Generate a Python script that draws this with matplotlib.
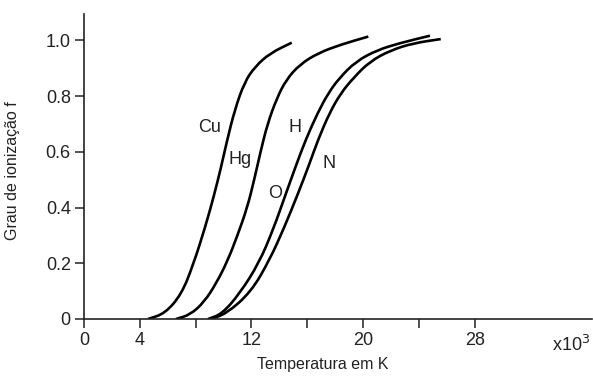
import matplotlib.pyplot as plt
from matplotlib.path import Path
from matplotlib.patches import PathPatch

plt.rcParams['font.family'] = ['Liberation Sans', 'DejaVu Sans']

# temperature in 10^3 K, ionisation fraction f
cu_T = [4.59, 5.81, 7.00, 7.84, 8.67, 9.30, 9.80, 10.25, 10.80, 11.50, 12.26, 13.33, 14.89]
cu_f = [0.0, 0.020, 0.090, 0.197, 0.327, 0.440, 0.540, 0.640, 0.750, 0.850, 0.906, 0.954, 0.992]

hg_T = [6.59, 7.60, 8.60, 9.50, 10.30, 11.00, 11.70, 12.20, 12.65, 13.15, 13.80, 14.50, 15.50, 16.80, 18.40, 20.38]
hg_f = [0.0, 0.015, 0.060, 0.130, 0.210, 0.300, 0.400, 0.500, 0.600, 0.700, 0.790, 0.860, 0.915, 0.955, 0.985, 1.014]

h_T = [8.89, 9.89, 11.18, 12.54, 13.55, 14.40, 15.15, 15.90, 16.75, 17.50, 18.30, 19.50, 21.00, 22.60, 24.80]
h_f = [0.0, 0.018, 0.093, 0.201, 0.320, 0.440, 0.545, 0.645, 0.740, 0.810, 0.865, 0.925, 0.965, 0.990, 1.017]

n_T = [9.03, 10.18, 11.97, 13.30, 14.34, 15.30, 16.13, 16.77, 17.60, 18.40, 19.30, 20.50, 22.00, 23.60, 25.57]
n_f = [0.0, 0.018, 0.097, 0.212, 0.327, 0.445, 0.553, 0.643, 0.740, 0.810, 0.865, 0.925, 0.965, 0.990, 1.005]

labels = ["Cu", "Hg", "H", "O", "N"]
label_T = [9.03, 11.15, 15.13, 13.73, 17.53]
label_f = [0.689, 0.571, 0.689, 0.449, 0.56]

x_ticks = [0, 4, 8, 12, 16, 20, 24, 28]
x_ticklabels = ["0", "4", "", "12", "", "20", "", "28"]
y_ticks = [0, 0.2, 0.4, 0.6, 0.8, 1.0]
y_ticklabels = ["0", "0.2", "0.4", "0.6", "0.8", "1.0"]

ink = "#222222"


def smooth_curve(xs, ys):
    # quadratic Bezier through the midpoints, read points act as control points
    pts = list(zip(xs, ys))
    mid = lambda a, b: ((a[0] + b[0]) / 2, (a[1] + b[1]) / 2)
    verts = [pts[0], mid(pts[0], pts[1])]
    codes = [Path.MOVETO, Path.LINETO]
    for i in range(1, len(pts) - 1):
        verts += [pts[i], mid(pts[i], pts[i + 1])]
        codes += [Path.CURVE3, Path.CURVE3]
    verts.append(pts[-1])
    codes.append(Path.LINETO)
    return Path(verts, codes)


fig = plt.figure(figsize=(5.93, 3.76), dpi=100)
ax = fig.add_axes([0.1417, 0.1516, 0.8563, 0.8112])

for T, f in [(cu_T, cu_f), (hg_T, hg_f), (h_T, h_f), (n_T, n_f)]:
    ax.add_patch(PathPatch(smooth_curve(T, f), fill=False, edgecolor="black",
                           lw=1.9, capstyle="butt", joinstyle="round"))

for name, T, f in zip(labels, label_T, label_f):
    ax.text(T, f, name, ha="center", va="center", fontsize=13, color=ink)

ax.set_xlim(0, 36.4)
ax.set_ylim(0, 1.095)
ax.set_xticks(x_ticks)
ax.set_xticklabels(x_ticklabels)
ax.set_yticks(y_ticks)
ax.set_yticklabels(y_ticklabels)

for side in ["top", "right"]:
    ax.spines[side].set_visible(False)
for side in ["left", "bottom"]:
    ax.spines[side].set_linewidth(1.2)
    ax.spines[side].set_color(ink)

ax.tick_params(direction="out", length=6.5, width=1.1, color=ink,
               labelsize=13, labelcolor=ink, pad=3)

ax.set_xlabel("Temperatura em K", fontsize=11.5, color=ink)
ax.xaxis.set_label_coords(0.471, -0.125)
ax.set_ylabel("Grau de ionização f", fontsize=11.5, color=ink)
ax.yaxis.set_label_coords(-0.126, 0.485)

ax.annotate("x10$^3$", xy=(1, 0), xycoords="axes fraction", xytext=(-1, -19),
            textcoords="offset points", ha="right", va="center", fontsize=13, color=ink)

fig.savefig("out.png", dpi=100)
